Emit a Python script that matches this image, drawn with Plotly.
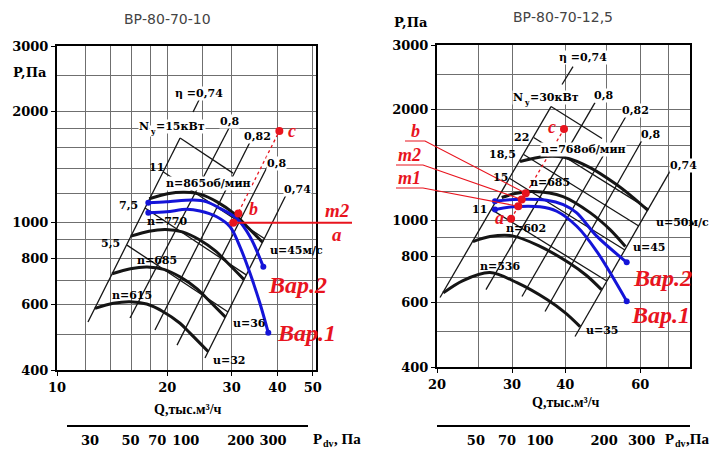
import plotly.graph_objects as go
from math import log10

# page geometry: the figure div sits 8px inside the page body
OFF = 8
W, H = 719 - OFF, 450 - OFF

# ---------------- LEFT CHART  (ВР-80-70-10) ----------------
L_title = "ВР-80-70-10"
L_xtick_vals = [10, 20, 30, 40, 50]
L_xgrid_vals = [12, 14, 16, 18, 25]
P_tick_vals = [400, 600, 800, 1000, 2000, 3000]
P_grid_vals = [500, 700, 900, 1200, 1400, 1600, 1800, 2500]
L_pdv_vals = [30, 50, 70, 100, 200, 300]

# fan curves  (Q, тыс.м3/ч ; P, Па)
L_n615_q = [12.70, 14.25, 15.83, 17.58, 19.51, 21.68, 23.09, 25.91]
L_n615_p = [587, 606, 612, 603, 575, 535, 503, 448]
L_n685_q = [14.14, 15.87, 17.63, 19.58, 21.73, 24.15, 25.72, 28.86]
L_n685_p = [728, 751, 759, 748, 713, 663, 623, 556]
L_n770_q = [15.90, 17.84, 19.82, 22.01, 24.43, 27.14, 28.91, 32.44]
L_n770_p = [920, 949, 959, 945, 901, 838, 788, 702]
L_n865_q = [17.86, 20.04, 22.27, 24.73, 27.44, 30.49, 32.48, 36.44]
L_n865_p = [1161, 1198, 1210, 1193, 1137, 1058, 994, 886]

# system variants (blue)
L_var2_q = [17.76, 19.94, 23.57, 25.64, 27.89, 30.97, 33.68, 36.62]
L_var2_p = [1133, 1139, 1152, 1139, 1094, 1028, 917, 760]
L_var1_q = [17.76, 19.94, 22.62, 24.58, 27.31, 29.70, 31.62, 33.68, 35.86, 37.78]
L_var1_p = [1064, 1071, 1087, 1076, 1038, 975, 861, 730, 605, 504]

# efficiency lines (η) and motor power lines (N)  [q0, q1], [p0, p1]
L_eta_lines = [
    ([12.15, 21.69], [539, 1694]),    # 0,74 left
    ([23.53, 24.74], [1992, 2200]),   # 0,74 left (tick above label)
    ([15.83, 29.51], [553, 1803]),    # 0,8
    ([18.52, 33.68], [513, 1652]),    # 0,82
    ([21.28, 37.49], [467, 1415]),    # 0,8
    ([25.37, 42.50], [431, 1203]),    # 0,74 right
]
L_power_lines = [
    ([21.69, 30.26], [1694, 1362]),   # 15 kW
    ([19.49, 36.93], [1373, 905]),    # 11 kW
    ([17.40, 32.95], [1096, 722]),    # 7.5 kW
    ([15.53, 29.33], [870, 574]),     # 5.5 kW
]
L_pt_names = ["a", "b", "c"]
L_pt_q = [30.3, 31.3, 40.5]
L_pt_p = [1000, 1060, 1770]

# ---------------- RIGHT CHART (ВР-80-70-12,5) ----------------
R_title = "ВР-80-70-12,5"
R_xtick_vals = [20, 30, 40, 60]
R_xgrid_vals = [25, 50, 70]
R_pdv_vals = [50, 70, 100, 200, 300]

R_n536_q = [20.69, 23.02, 26.63, 30.81, 36.25, 39.95, 43.34]
R_n536_p = [636, 687, 722, 678, 610, 562, 515]
R_n602_q = [24.29, 26.63, 29.91, 34.62, 40.71, 44.88, 48.65]
R_n602_p = [877, 905, 910, 855, 769, 709, 649]
R_n685_q = [28.37, 30.48, 33.61, 39.52, 45.74, 50.96, 55.37]
R_n685_p = [1155, 1184, 1199, 1162, 1051, 945, 850]
R_n768_q = [31.32, 35.86, 39.95, 45.74, 52.35, 57.38, 62.56]
R_n768_p = [1447, 1493, 1484, 1393, 1261, 1162, 1065]

R_var2_q = [27.36, 30.20, 36.19, 39.58, 42.57, 47.42, 55.76]
R_var2_p = [1128, 1141, 1136, 1105, 1049, 907, 770]
R_var1_q = [27.36, 30.15, 34.90, 38.20, 42.57, 47.42, 55.76]
R_var1_p = [1071, 1090, 1090, 1060, 965, 825, 604]

R_eta_lines = [
    ([20.33, 37.04], [618, 2041]),    # 0,74 left
    ([39.31, 41.71], [2343, 2621]),   # tick under η label
    ([26.06, 46.98], [649, 2092]),    # 0,8
    ([31.66, 55.85], [622, 1942]),    # 0,82
    ([35.86, 60.90], [566, 1671]),    # 0,8
    ([42.17, 71.25], [484, 1393]),    # 0,74 right
]
R_power_lines = [
    ([37.04, 48.79], [2041, 1671]),   # 30 kW
    ([33.72, 62.73], [1681, 1074]),   # 22 kW
    ([31.95, 59.52], [1512, 967]),    # 18.5 kW
    ([29.64, 55.22], [1301, 832]),    # 15 kW
    ([26.87, 50.07], [1071, 685]),    # 11 kW
]
R_pt_names = ["a", "m1", "m2", "b", "c"]
R_pt_q = [29.85, 31.03, 31.61, 32.31, 39.73]
R_pt_p = [1011, 1094, 1141, 1186, 1773]

# ---------------- layout geometry (screen px -> paper) ----------------
def pfx(x):
    return (x - OFF) / W

def pfy(y):
    return 1 - (y - OFF) / H

L_xr = [1.0, log10(51.0)]
L_xd = [pfx(57), pfx(316)]
L_yr = [log10(400), log10(3000)]
L_yd = [pfy(370), pfy(46.2)]
R_xr = [log10(20), log10(78.5)]
R_xd = [pfx(437), pfx(690)]
R_yr = [log10(400), log10(3000)]
R_yd = [pfy(367), pfy(45)]


def to_paper(q, p, xr, xd, yr, yd):
    fx = (log10(q) - xr[0]) / (xr[1] - xr[0])
    fy = (log10(p) - yr[0]) / (yr[1] - yr[0])
    return xd[0] + fx * (xd[1] - xd[0]), yd[0] + fy * (yd[1] - yd[0])


BLACK = "#151515"
BLUE = "#1414d8"
RED = "#e8141e"
GRID = "#6f6f6f"

fig = go.Figure()


def line(q, p, xa, ya, color=BLACK, width=1.3, spline=False, dash=None):
    ln = dict(color=color, width=width)
    if spline:
        ln["shape"] = "spline"
        ln["smoothing"] = 0.9
    if dash:
        ln["dash"] = dash
    fig.add_trace(go.Scatter(x=q, y=p, mode="lines", line=ln, xaxis=xa, yaxis=ya,
                             showlegend=False, hoverinfo="skip"))


def pts(q, p, xa, ya, color, size):
    fig.add_trace(go.Scatter(x=q, y=p, mode="markers", marker=dict(color=color, size=size),
                             xaxis=xa, yaxis=ya, showlegend=False, hoverinfo="skip",
                             cliponaxis=False))


# left chart marks
for q, p in L_eta_lines + L_power_lines:
    line(q, p, "x", "y")
for q, p in [(L_n615_q, L_n615_p), (L_n685_q, L_n685_p), (L_n770_q, L_n770_p), (L_n865_q, L_n865_p)]:
    line(q, p, "x", "y", width=3, spline=True)
line([L_pt_q[0], L_pt_q[2]], [L_pt_p[0], L_pt_p[2]], "x", "y", color=RED, width=1.3, dash="dot")
for q, p in [(L_var2_q, L_var2_p), (L_var1_q, L_var1_p)]:
    line(q, p, "x", "y", color=BLUE, width=3, spline=True)
    pts([q[0], q[-1]], [p[0], p[-1]], "x", "y", BLUE, 6)
pts(L_pt_q, L_pt_p, "x", "y", RED, 8)

# right chart marks
for q, p in R_eta_lines + R_power_lines:
    line(q, p, "x2", "y2")
for q, p in [(R_n536_q, R_n536_p), (R_n602_q, R_n602_p), (R_n685_q, R_n685_p), (R_n768_q, R_n768_p)]:
    line(q, p, "x2", "y2", width=3, spline=True)
line([R_pt_q[0], R_pt_q[-1]], [R_pt_p[0], R_pt_p[-1]], "x2", "y2", color=RED, width=1.3, dash="dot")
for q, p in [(R_var2_q, R_var2_p), (R_var1_q, R_var1_p)]:
    line(q, p, "x2", "y2", color=BLUE, width=3, spline=True)
    pts([q[0], q[-1]], [p[0], p[-1]], "x2", "y2", BLUE, 6)
pts(R_pt_q, R_pt_p, "x2", "y2", RED, 8)

# invisible anchors for the dynamic-pressure scales
fig.add_trace(go.Scatter(x=[L_pdv_vals[0], L_pdv_vals[-1]], y=[1, 1], mode="markers",
                         marker=dict(opacity=0), xaxis="x3", yaxis="y3", showlegend=False, hoverinfo="skip"))
fig.add_trace(go.Scatter(x=[R_pdv_vals[0], R_pdv_vals[-1]], y=[1, 1], mode="markers",
                         marker=dict(opacity=0), xaxis="x4", yaxis="y4", showlegend=False, hoverinfo="skip"))

TICKF = dict(family="DejaVu Serif", size=13, color="black", weight="bold")


def main_x(dom, rng, vals, grid):
    return dict(type="log", domain=dom, range=rng, tickmode="array", tickvals=vals,
                ticktext=[str(v) for v in vals],
                showgrid=True, gridcolor=GRID, gridwidth=1.3, showline=True, mirror=True,
                linecolor="black", linewidth=2, ticks="outside", ticklen=4, tickcolor="black",
                tickfont=TICKF, zeroline=False, fixedrange=True, automargin=False,
                minor=dict(tickmode="array", tickvals=grid, showgrid=True, gridcolor=GRID,
                           gridwidth=1.3, ticks=""))


def main_y(dom, rng, anchor):
    return dict(type="log", domain=dom, range=rng, tickmode="array", tickvals=P_tick_vals,
                ticktext=[str(v) for v in P_tick_vals],
                showgrid=True, gridcolor=GRID, gridwidth=1.3, showline=True, mirror=True,
                linecolor="black", linewidth=2, ticks="outside", ticklen=4, tickcolor="black",
                tickfont=TICKF, zeroline=False, anchor=anchor, fixedrange=True, automargin=False,
                minor=dict(tickmode="array", tickvals=P_grid_vals, showgrid=True, gridcolor=GRID,
                           gridwidth=1.3, ticks=""))


def pdv_x(dom, rng, vals, anchor):
    return dict(type="log", domain=dom, range=rng, tickmode="array", tickvals=vals,
                ticktext=[str(v) for v in vals],
                showgrid=False, showline=True, linecolor="black", linewidth=1.6,
                ticks="outside", ticklen=3, tickcolor="rgba(0,0,0,0)", tickfont=TICKF,
                zeroline=False, anchor=anchor, fixedrange=True, automargin=False)


fig.update_layout(
    width=W, height=H, autosize=False,
    margin=dict(l=0, r=0, t=0, b=0, pad=0, autoexpand=False),
    paper_bgcolor="white", plot_bgcolor="white", showlegend=False,
    xaxis=main_x(L_xd, L_xr, L_xtick_vals, L_xgrid_vals),
    yaxis=main_y(L_yd, L_yr, "x"),
    xaxis2=main_x(R_xd, R_xr, R_xtick_vals, R_xgrid_vals) | dict(anchor="y2"),
    yaxis2=main_y(R_yd, R_yr, "x2"),
    xaxis3=pdv_x([pfx(67), pfx(308)], [1.3514, 2.6684], L_pdv_vals, "y3"),
    yaxis3=dict(domain=[pfy(425), pfy(423)], visible=False, anchor="x3", fixedrange=True),
    xaxis4=pdv_x(R_xd, [1.5164, 2.7042], R_pdv_vals, "y4"),
    yaxis4=dict(domain=[pfy(425), pfy(423)], visible=False, anchor="x4", fixedrange=True),
)

# ---------------- annotations ----------------
ann = []


def text(t, x, y, size=11, color="black", bold=True, italic=False, family="DejaVu Serif",
         bg=None, xanchor="center"):
    s = t
    if italic:
        s = "<i>" + s + "</i>"
    if bold:
        s = "<b>" + s + "</b>"
    a = dict(text=s, x=pfx(x), y=pfy(y), xref="paper", yref="paper", showarrow=False,
             xanchor=xanchor, yanchor="middle", font=dict(family=family, size=size, color=color),
             borderpad=0)
    if bg:
        a["bgcolor"] = bg
    ann.append(a)


def sub_label(main, sub, rest, x0, y, size, sub_size, family, bg=None, sub_w=None):
    # main glyph right-aligned at x0, subscript just after it, rest left-aligned after subscript
    text(main, x0, y, size=size, family=family, bg=bg, xanchor="right")
    text(sub, x0 - 1, y + size * 0.33, size=sub_size, family=family, bg=bg, xanchor="left")
    text(rest, x0 + sub_w - 2, y, size=size, family=family, bg=bg, xanchor="left")


# titles & axis names
text(L_title, 167, 19, size=14, color="#444444", bold=False, family="DejaVu Sans")
text(R_title, 563, 17, size=14, color="#444444", bold=False, family="DejaVu Sans")
text("P,Па", 30, 72, size=13)
text("P,Па", 411, 23, size=13)
text("Q,тыс.м³/ч", 188, 409, size=14, family="Liberation Serif")
text("Q,тыс.м³/ч", 566, 402, size=14, family="Liberation Serif")
sub_label("P", "dv", ", Па", 323, 439, 15, 10, "Liberation Serif", sub_w=11.5)
sub_label("P", "dv", ",Па", 675, 439, 15, 10, "Liberation Serif", sub_w=11.5)

# motor power labels with subscript
sub_label("N", "y", "=15кВт", 150, 127, 11, 8, "DejaVu Serif", bg="white", sub_w=6.5)
sub_label("N", "y", "=30кВт", 524, 98, 11, 8, "DejaVu Serif", bg="white", sub_w=6.5)

# left chart labels
for t, x, y, bg in [("η =0,74", 199, 94, "white"),
                    ("0,8", 229, 122, "white"), ("0,82", 257, 136, "white"), ("11", 156, 167, None),
                    ("n=865об/мин", 208, 184, "white"), ("0,8", 276, 163, "white"),
                    ("0,74", 297, 189, "white"), ("7,5", 128, 205, None), ("n=770", 167, 221, None),
                    ("5,5", 110, 243, None), ("u=45м/с", 296, 250, None), ("n=685", 157, 260, None),
                    ("n=615", 132, 295, None), ("u=36", 249, 323, None), ("u=32", 229, 360, None)]:
    text(t, x, y, bg=bg)

# right chart labels
for t, x, y, bg in [("η =0,74", 583, 57, "white"),
                    ("0,8", 603, 96, "white"), ("0,82", 635, 110, "white"), ("0,8", 650, 135, "white"),
                    ("22", 521, 137, None), ("0,74", 683, 165, "white"),
                    ("n=768об/мин", 583, 149, "white"), ("18,5", 502, 155, None), ("15", 500, 178, None),
                    ("n=685", 550, 183, None), ("11", 479, 210, None), ("n=602", 526, 228, None),
                    ("u=50м/с", 682, 222, None), ("n=536", 500, 266, None), ("u=45", 649, 248, None),
                    ("u=35", 602, 330, None)]:
    text(t, x, y, bg=bg)

# red labels
for t, x, y, s in [("c", 292, 131, 18), ("b", 253, 209, 18), ("m2", 337, 211, 19), ("a", 337, 235, 19),
                   ("Вар.2", 297, 285, 24), ("Вар.1", 306, 333, 24),
                   ("b", 415, 131, 18), ("m2", 409, 155, 18), ("m1", 409, 178, 18),
                   ("c", 552, 127, 18), ("a", 499, 218, 18),
                   ("Вар.2", 662, 278, 24), ("Вар.1", 660, 315, 24)]:
    text(t, x, y, size=s, color=RED, italic=True, family="Liberation Serif")

fig.update_layout(annotations=ann)

# ---------------- red guide lines outside plot areas ----------------
shapes = []
ax_, ay_ = to_paper(L_pt_q[0], L_pt_p[0], L_xr, L_xd, L_yr, L_yd)
shapes.append(dict(type="line", xref="paper", yref="paper", x0=ax_, y0=ay_, x1=pfx(352), y1=ay_,
                   line=dict(color=RED, width=2)))

for name, (ux0, ux1, uy) in {"b": (405, 425, 141), "m2": (396, 423, 165), "m1": (396, 423, 188)}.items():
    i = R_pt_names.index(name)
    px_, py_ = to_paper(R_pt_q[i], R_pt_p[i], R_xr, R_xd, R_yr, R_yd)
    path = "M %.5f %.5f L %.5f %.5f L %.5f %.5f" % (pfx(ux0), pfy(uy), pfx(ux1), pfy(uy), px_, py_)
    shapes.append(dict(type="path", xref="paper", yref="paper", path=path,
                       line=dict(color=RED, width=1.1)))

fig.update_layout(shapes=shapes)

fig.write_html("out.html")
